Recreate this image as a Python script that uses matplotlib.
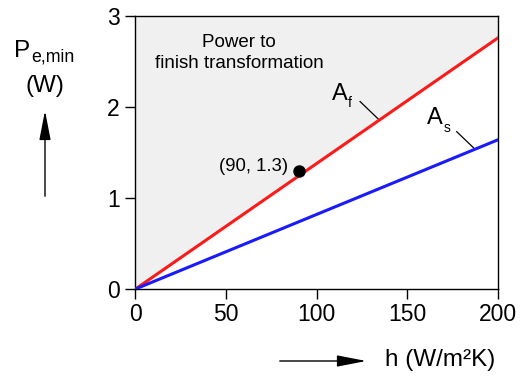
import matplotlib
matplotlib.use("Agg")
import matplotlib.pyplot as plt
from matplotlib.patches import FancyArrowPatch

plt.rcParams['font.family'] = ['Liberation Sans', 'DejaVu Sans']

# data
h = [0, 200]
A_f = [0, 2.76]
A_s = [0, 1.64]
point_h = [90]
point_P = [1.3]
xticks = [0, 50, 100, 150, 200]
yticks = [0, 1, 2, 3]

W, H = 527, 380
fig = plt.figure(figsize=(W / 100, H / 100), dpi=100)
ax = fig.add_axes([0.2571, 0.2395, 0.6879, 0.7184])


def fx(px):
    return px / W


def fy(py):
    return 1 - py / H


ax.fill_between(h, A_f, [3, 3], color='#f0f0f0', zorder=0, linewidth=0)
ax.plot(h, A_f, color='#ff1a1a', lw=2.2, zorder=3)
ax.plot(h, A_s, color='#1a1aff', lw=2.2, zorder=3)
ax.plot(point_h, point_P, 'o', color='black', ms=8, zorder=4)

ax.set_xlim(0, 200)
ax.set_ylim(0, 3)
ax.set_xticks(xticks)
ax.set_yticks(yticks)
ax.tick_params(direction='out', width=1, labelsize=16.5, length=7)
ax.tick_params(axis='x', pad=3)
ax.tick_params(axis='y', pad=4.5)
for s in ax.spines.values():
    s.set_linewidth(1.0)

ax.text(57.1, 2.595, 'Power to\nfinish transformation', ha='center', va='center',
        fontsize=13.5, linespacing=1.3)
ax.text(84.1, 1.35, '(90, 1.3)', ha='right', va='center', fontsize=13.3)

# curve labels with leaders
fig.text(fx(331.5), fy(100), 'A', ha='left', va='baseline', fontsize=17)
fig.text(fx(347.5), fy(107), 'f', ha='left', va='baseline', fontsize=10)
ax.plot([123.9, 134.5], [2.06, 1.857], color='black', lw=0.9)
fig.text(fx(427), fy(123.5), 'A', ha='left', va='baseline', fontsize=17)
fig.text(fx(444), fy(132.5), 's', ha='left', va='baseline', fontsize=10)
ax.plot([177.2, 186.8], [1.729, 1.546], color='black', lw=0.9)

# y label with arrow
fig.text(fx(14), fy(57), 'P', ha='left', va='baseline', fontsize=17.5)
fig.text(fx(31), fy(61.5), 'e,min', ha='left', va='baseline', fontsize=12.8)
fig.text(fx(44.5), fy(86), '(W)', ha='center', va='center', fontsize=17.5)
fig.patches.append(FancyArrowPatch(
    (fx(45), fy(199)), (fx(45), fy(108)), transform=fig.transFigure,
    arrowstyle='-|>,head_length=18,head_width=3.5', color='black', lw=1, mutation_scale=1))

# x label with arrow
fig.text(fx(385), fy(360), 'h (W/m²K)', ha='left', va='center', fontsize=17.5)
fig.patches.append(FancyArrowPatch(
    (fx(277), fy(361)), (fx(369), fy(361)), transform=fig.transFigure,
    arrowstyle='-|>,head_length=18,head_width=3.5', color='black', lw=1, mutation_scale=1))

fig.savefig('out.png', dpi=100)
